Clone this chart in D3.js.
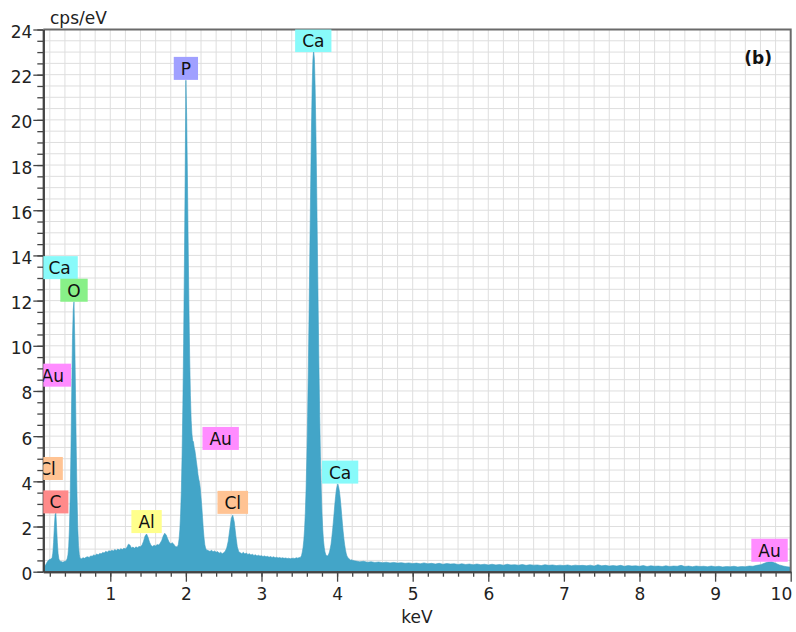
<!DOCTYPE html>
<html lang="en">
<head>
<meta charset="UTF-8">
<title>EDS spectrum (b)</title>
<script src="https://d3js.org/d3.v7.min.js"></script>
<style>
    body { margin: 0; padding: 0; background: #fff; }
    svg { display: block; font-family: "DejaVu Sans", Verdana, sans-serif; }
</style>
</head>
<body>
<svg id="chart"></svg>
<script>
    // spectrum, read off the picture channel by channel (cps/eV)
    // 0.12 - 0.60 keV, 0.01 keV channels (C and O peaks)
    const cpsLow = [0.18,0.22,0.28,0.33,0.40,0.45,0.50,0.52,0.55,
        0.55,0.58,0.62,0.82,1.30,1.98,2.52,2.60,1.95,1.28,0.80,0.56,
        0.50,0.46,0.44,0.45,0.42,0.43,0.46,0.44,0.48,0.50,
        0.58,0.74,1.13,1.94,3.36,5.44,7.96,10.32,11.60,11.95,10.30,7.90,5.40,3.35,1.95,1.15,0.76,0.60];
    // 0.62 - 1.88 keV, 0.02 keV channels (Al, Si)
    const cpsMid = [0.57,0.62,0.59,0.64,0.66,0.63,0.70,0.68,0.74,0.72,0.78,0.75,0.81,0.79,0.85,0.83,0.90,0.86,0.93,0.90,
        0.95,0.92,0.98,0.94,1.00,0.96,1.02,0.98,1.04,1.01,1.08,1.22,1.18,1.05,1.09,1.04,1.10,1.06,1.12,1.10,
        1.18,1.35,1.58,1.67,1.52,1.30,1.16,1.12,1.17,1.14,1.20,1.18,1.26,1.38,1.58,1.70,1.62,1.45,1.30,1.24,
        1.28,1.22,1.12,1.10];
    // 1.89 - 2.30 keV, 0.01 keV channels (P with the Au M shoulder)
    const cpsP = [1.12,1.20,
        1.45,1.85,2.55,3.60,5.20,7.40,10.1,13.4,17.3,21.75,
        20.2,17.6,14.6,11.8,9.50,7.80,6.70,6.10,5.80,5.75,
        5.50,5.35,5.10,4.85,4.60,4.30,4.10,3.95,3.70,3.30,
        2.90,2.40,1.90,1.50,1.20,1.05,0.98,0.94,0.96,0.92];
    // 2.32 - 3.50 keV, 0.02 keV channels (Cl)
    const cpsCl = [0.90,0.95,0.88,0.92,0.86,0.89,0.82,0.86,0.80,0.84,
        0.90,1.05,1.35,1.85,2.35,2.50,2.20,1.60,1.10,0.88,
        0.84,0.80,0.86,0.78,0.83,0.76,0.80,0.74,0.77,0.72,
        0.75,0.70,0.73,0.69,0.71,0.67,0.70,0.66,0.68,0.64,
        0.67,0.63,0.66,0.62,0.64,0.61,0.63,0.60,0.62,0.59,
        0.61,0.58,0.60,0.57,0.59,0.60,0.58,0.62,0.60,0.63];
    // 3.51 - 4.22 keV, 0.01 keV channels (Ca K-alpha, K-beta)
    const cpsCa = [0.62,0.66,0.72,0.87,1.07,1.39,1.88,2.62,3.66,5.08,
        6.88,9.06,11.58,14.28,16.96,19.41,21.39,22.67,23.10,22.67,
        21.39,19.41,16.96,14.28,11.58,9.06,6.88,5.08,3.66,2.62,
        1.88,1.39,1.07,0.87,0.76,0.72,0.70,0.72,0.78,0.88,
        1.04,1.22,1.50,1.82,2.18,2.57,2.97,3.32,3.62,3.78,
        3.88,3.76,3.58,3.30,2.94,2.54,2.15,1.78,1.46,1.19,
        0.98,0.82,0.70,0.64,0.60,0.56,0.54,0.51,0.53,0.50,
        0.52,0.49];
    // 4.25 - 10.00 keV, 0.05 keV channels (background, Au L-alpha)
    const cpsHigh = [0.47,0.44,0.46,0.42,0.44,0.41,0.43,0.40,0.42,0.39,
        0.41,0.38,0.40,0.37,0.39,0.36,0.38,0.35,0.39,0.35,
        0.37,0.34,0.37,0.33,0.36,0.34,0.35,0.32,0.35,0.32,
        0.34,0.31,0.34,0.31,0.33,0.30,0.33,0.30,0.32,0.29,
        0.33,0.30,0.31,0.29,0.32,0.28,0.31,0.29,0.30,0.27,
        0.31,0.28,0.30,0.27,0.29,0.27,0.30,0.26,0.29,0.27,
        0.28,0.26,0.29,0.25,0.31,0.26,0.28,0.25,0.27,0.25,
        0.28,0.24,0.27,0.25,0.26,0.24,0.27,0.23,0.26,0.24,
        0.25,0.23,0.26,0.23,0.25,0.24,0.28,0.23,0.25,0.22,
        0.25,0.23,0.24,0.22,0.25,0.22,0.24,0.21,0.23,0.22,
        0.24,0.21,0.23,0.22,0.25,0.24,0.28,0.31,0.37,0.43,
        0.44,0.37,0.30,0.25,0.22,0.20];

    // [first channel keV, channel width keV, values]
    const segments = [[0.12, 0.01, cpsLow], [0.62, 0.02, cpsMid], [1.89, 0.01, cpsP],
                      [2.32, 0.02, cpsCl], [3.51, 0.01, cpsCa], [4.25, 0.05, cpsHigh]];

    // peak labels
    const labelNames    = ["Ca", "P", "Ca", "O", "Au", "Au", "Cl", "C", "Al", "Cl", "Ca", "Au"];
    const labelEnergies = [3.685, 2.00, 0.33, 0.52, 0.24, 2.46, 0.17, 0.275, 1.48, 2.62, 4.04, 9.72];
    const labelLevels   = [23.0, 21.77, 12.95, 11.95, 8.19, 5.39, 4.06, 2.58, 1.71, 2.56, 3.9, 0.44];
    const elementColors = { Ca: "#88fafa", P: "#a0a0ff", O: "#88f088", Au: "#ff8cff",
                            Cl: "#ffc393", C: "#ff8a8a", Al: "#ffff8c" };

    const W = 796, H = 632;
    const plot = { left: 43.3, right: 790.7, top: 29.5, bottom: 571.7 };

    const svg = d3.select("#chart").attr("width", W).attr("height", H);

    const x = d3.scaleLinear().domain([0.114, 10]).range([plot.left, plot.right]);
    const y = d3.scaleLinear().domain([0, 24]).range([plot.bottom, plot.top]);

    const spectrum = [];
    segments.forEach(([e0, step, vals]) => {
        vals.forEach((v, i) => spectrum.push({ e: e0 + i * step, v: v }));
    });

    svg.append("defs").append("clipPath").attr("id", "plotclip")
        .append("rect")
        .attr("x", plot.left).attr("y", plot.top)
        .attr("width", plot.right - plot.left).attr("height", plot.bottom - plot.top);

    // grid
    const grid = svg.append("g").attr("stroke", "#dedede").attr("stroke-width", 1);
    grid.selectAll(".gx").data(d3.range(0.2, 9.95, 0.2)).join("line")
        .attr("x1", d => x(d)).attr("x2", d => x(d))
        .attr("y1", plot.top).attr("y2", plot.bottom);
    grid.selectAll(".gy").data(d3.range(0.5, 24, 0.5)).join("line")
        .attr("y1", d => y(d)).attr("y2", d => y(d))
        .attr("x1", plot.left).attr("x2", plot.right);

    // spectrum
    const area = d3.area()
        .x(d => x(d.e))
        .y0(y(0))
        .y1(d => y(d.v));

    svg.append("path")
        .datum(spectrum)
        .attr("clip-path", "url(#plotclip)")
        .attr("fill", "#43a5c8")
        .attr("stroke", "#3f9fc3")
        .attr("stroke-width", 0.6)
        .attr("d", area);

    // frame top / right
    svg.append("path")
        .attr("d", `M${plot.left},${plot.top}H${plot.right}V${plot.bottom}`)
        .attr("fill", "none").attr("stroke", "#6a6a6a").attr("stroke-width", 2);

    // axes
    function styleAxis(g) {
        g.select(".domain").attr("stroke", "#444").attr("stroke-width", 2);
        g.selectAll(".tick line").attr("stroke", "#444").attr("stroke-width", 1.3);
        g.selectAll("text").attr("fill", "#222").style("font-size", "17px")
            .style("font-family", "'DejaVu Sans', Verdana, sans-serif");
    }

    svg.append("g")
        .attr("transform", `translate(${plot.left},0)`)
        .call(d3.axisLeft(y).tickValues(d3.range(0, 24.01, 0.5)).tickSize(6).tickSizeOuter(0).tickFormat(""))
        .call(styleAxis);
    svg.append("g")
        .attr("transform", `translate(${plot.left},0)`)
        .call(d3.axisLeft(y).tickValues(d3.range(0, 25, 2)).tickSize(10).tickSizeOuter(0).tickPadding(1))
        .call(styleAxis)
        .call(g => g.selectAll("text").attr("dy", "8px"));

    svg.append("g")
        .attr("transform", `translate(0,${plot.bottom})`)
        .call(d3.axisBottom(x).tickValues(d3.range(0.2, 9.99, 0.2)).tickSize(5).tickSizeOuter(0).tickFormat(""))
        .call(styleAxis);
    svg.append("g")
        .attr("transform", `translate(0,${plot.bottom})`)
        .call(d3.axisBottom(x).tickValues(d3.range(1, 11, 1)).tickSize(10).tickSizeOuter(0).tickPadding(6))
        .call(styleAxis)
        .call(g => g.selectAll(".tick").filter(d => d === 10).select("text")
            .attr("text-anchor", "end").attr("dx", "1px"));

    // peak labels
    const labels = svg.append("g").attr("clip-path", "url(#plotclip)")
        .selectAll("g").data(labelNames.map((n, i) => ({ name: n, e: labelEnergies[i], level: labelLevels[i] })))
        .join("g")
        .attr("transform", d => `translate(${x(d.e)},${y(d.level)})`);

    labels.append("text")
        .attr("text-anchor", "middle")
        .attr("y", -5)
        .attr("fill", "#111")
        .style("font-size", "17px")
        .text(d => d.name);

    labels.each(function () {
        const g = d3.select(this);
        const w = g.select("text").node().getComputedTextLength() + 14;
        g.insert("rect", "text")
            .attr("x", -w / 2).attr("y", -23)
            .attr("width", w).attr("height", 23)
            .attr("fill", d => elementColors[d.name]);
    });

    // titles
    svg.append("text")
        .attr("x", 50).attr("y", 23.5)
        .attr("fill", "#222")
        .style("font-size", "17px")
        .text("cps/eV");

    svg.append("text")
        .attr("x", (plot.left + plot.right) / 2).attr("y", 623)
        .attr("text-anchor", "middle")
        .attr("fill", "#222")
        .style("font-size", "17px")
        .text("keV");

    svg.append("text")
        .attr("x", 772).attr("y", 64)
        .attr("text-anchor", "end")
        .attr("fill", "#111")
        .style("font-size", "17px")
        .style("font-weight", "bold")
        .text("(b)");
</script>
</body>
</html>
